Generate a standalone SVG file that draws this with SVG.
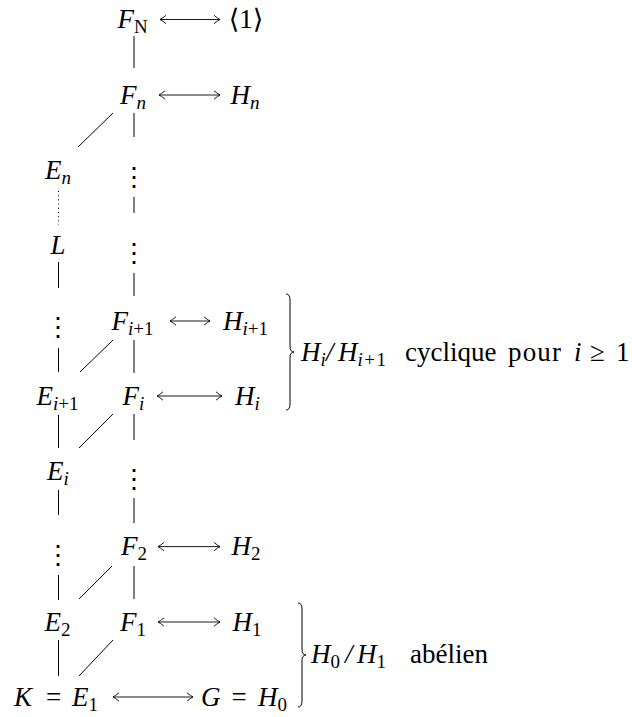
<svg xmlns="http://www.w3.org/2000/svg" width="632" height="717" viewBox="0 0 632 717">
<style>
.m{font-size:27px;font-style:italic;fill:#000}
.up{font-style:normal}
.it{font-style:italic}
.s{font-size:19px}
.vd{font-size:26px;font-style:normal;fill:#000}
.e{stroke:#000;stroke-width:1;fill:none}
.g{stroke:#000;stroke-width:1;fill:none}
.dot{stroke:#000;stroke-width:1;fill:none;stroke-dasharray:1 3.2}
.ar{stroke:#000;stroke-width:0.9;fill:none;marker-start:url(#ah);marker-end:url(#ah)}
.br{stroke:#000;stroke-width:1;fill:none}
</style>
<defs>
<marker id="ah" viewBox="-8 -5 10 10" refX="0" refY="0" markerWidth="10" markerHeight="10" markerUnits="userSpaceOnUse" orient="auto-start-reverse">
<path d="M-6,-4.2 Q-2.2,-1 0,0 Q-2.2,1 -6,4.2" fill="none" stroke="#000" stroke-width="0.9"/>
</marker>
</defs>

<g id="connectors">
<line class="g" x1="134" y1="36" x2="134" y2="68"/>
<line class="g" x1="134" y1="113" x2="134" y2="137"/>
<line class="g" x1="134" y1="197" x2="134" y2="213"/>
<line class="g" x1="134" y1="273" x2="134" y2="296"/>
<line class="g" x1="134" y1="340" x2="134" y2="373"/>
<line class="g" x1="134" y1="414" x2="134" y2="440"/>
<line class="g" x1="134" y1="498" x2="134" y2="523"/>
<line class="g" x1="134" y1="566" x2="134" y2="599"/>
<line class="dot" x1="58.5" y1="191" x2="58.5" y2="225"/>
<line class="e" x1="58.5" y1="262" x2="58.5" y2="288"/>
<line class="e" x1="58.5" y1="348" x2="58.5" y2="372"/>
<line class="e" x1="58.5" y1="415" x2="58.5" y2="448"/>
<line class="e" x1="58.5" y1="490" x2="58.5" y2="515"/>
<line class="e" x1="58.5" y1="575" x2="58.5" y2="600"/>
<line class="e" x1="58.5" y1="640" x2="58.5" y2="676"/>
<line class="e" x1="78" y1="147" x2="113" y2="113"/>
<line class="e" x1="80" y1="372" x2="113" y2="340"/>
<line class="e" x1="79" y1="448" x2="113" y2="414"/>
<line class="e" x1="79" y1="599" x2="112" y2="566"/>
<line class="e" x1="79" y1="676" x2="113" y2="640"/>
<line class="ar" x1="160" y1="19.5" x2="220" y2="19.5"/>
<line class="ar" x1="159" y1="95" x2="220" y2="95"/>
<line class="ar" x1="170" y1="321" x2="210" y2="321"/>
<line class="ar" x1="157" y1="396" x2="222" y2="396"/>
<line class="ar" x1="158" y1="546.6" x2="220" y2="546.6"/>
<line class="ar" x1="158" y1="622" x2="220" y2="622"/>
<line class="ar" x1="113" y1="697" x2="193" y2="697"/>
</g>

<g font-family="Liberation Serif, DejaVu Serif, serif">
<g id="n-FN"><text class="m" x="132.5" y="28" text-anchor="middle">F<tspan class="up s" dy="5">N</tspan></text></g>
<g id="n-1"><text class="m up" x="246" y="28" text-anchor="middle">⟨1⟩</text></g>
<g id="n-Fn"><text class="m" x="133" y="103.5" text-anchor="middle">F<tspan class="s" dy="5">n</tspan></text></g>
<g id="n-Hn"><text class="m" x="245" y="103.5" text-anchor="middle">H<tspan class="s" dy="5">n</tspan></text></g>
<g id="n-En"><text class="m" x="58" y="178.5" text-anchor="middle">E<tspan class="s" dy="5">n</tspan></text></g>
<g id="n-vd1"><text class="vd" x="134" y="186" text-anchor="middle">⋮</text></g>
<g id="n-L"><text class="m" x="58" y="254" text-anchor="middle">L</text></g>
<g id="n-vd2"><text class="vd" x="134" y="262" text-anchor="middle">⋮</text></g>
<g id="n-vd3"><text class="vd" x="58" y="336" text-anchor="middle">⋮</text></g>
<g id="n-Fi1"><text class="m" x="132.5" y="329.5" text-anchor="middle">F<tspan class="s" dy="5">i</tspan><tspan class="up s">+1</tspan></text></g>
<g id="n-Hi1"><text class="m" x="245.5" y="329.5" text-anchor="middle">H<tspan class="s" dy="5">i</tspan><tspan class="up s">+1</tspan></text></g>
<g id="n-Ei1"><text class="m" x="57.5" y="404.5" text-anchor="middle">E<tspan class="s" dy="5">i</tspan><tspan class="up s">+1</tspan></text></g>
<g id="n-Fi"><text class="m" x="133.5" y="404.5" text-anchor="middle">F<tspan class="s" dy="5">i</tspan></text></g>
<g id="n-Hi"><text class="m" x="247.5" y="404.5" text-anchor="middle">H<tspan class="s" dy="5">i</tspan></text></g>
<g id="n-Ei"><text class="m" x="58" y="480" text-anchor="middle">E<tspan class="s" dy="5">i</tspan></text></g>
<g id="n-vd4"><text class="vd" x="134" y="488" text-anchor="middle">⋮</text></g>
<g id="n-vd5"><text class="vd" x="58" y="564" text-anchor="middle">⋮</text></g>
<g id="n-F2"><text class="m" x="134" y="555" text-anchor="middle">F<tspan class="up s" dy="5">2</tspan></text></g>
<g id="n-H2"><text class="m" x="246" y="555" text-anchor="middle">H<tspan class="up s" dy="5">2</tspan></text></g>
<g id="n-E2"><text class="m" x="57.5" y="630.5" text-anchor="middle">E<tspan class="up s" dy="5">2</tspan></text></g>
<g id="n-F1"><text class="m" x="133" y="630.5" text-anchor="middle">F<tspan class="up s" dy="5">1</tspan></text></g>
<g id="n-H1"><text class="m" x="247" y="630.5" text-anchor="middle">H<tspan class="up s" dy="5">1</tspan></text></g>
<g id="n-KE1"><text class="m" y="705.5"><tspan x="14">K</tspan><tspan class="up" x="46">=</tspan><tspan x="72">E</tspan><tspan class="up s" dy="5">1</tspan></text></g>
<g id="n-GH0"><text class="m" y="705.5"><tspan x="201">G</tspan><tspan class="up" x="231.5">=</tspan><tspan x="258">H</tspan><tspan class="up s" dy="5">0</tspan></text></g>

<g id="brace-cyclic">
<path class="br" d="M286,294 Q290,294 290,300 L290,346 Q290,352 294,352 Q290,352 290,358 L290,404 Q290,410 286,410"/>
<text class="m" y="360.5"><tspan x="301">H</tspan><tspan class="s" dy="5">i</tspan><tspan x="326" dy="-5">/</tspan><tspan x="338">H</tspan><tspan class="s" dy="5" letter-spacing="1.5">i</tspan><tspan class="up s" letter-spacing="1.5">+1</tspan><tspan class="up" x="405" dy="-5">cyclique</tspan><tspan class="up" x="508" textLength="53">pour</tspan><tspan x="574">i</tspan><tspan class="up" x="590">≥</tspan><tspan class="up" x="616">1</tspan></text>
</g>
<g id="brace-abelian">
<path class="br" d="M298,603 Q302,603 302,609 L302,649 Q302,655 306,655 Q302,655 302,661 L302,701 Q302,707 298,707"/>
<text class="m" y="663"><tspan x="311">H</tspan><tspan class="up s" dy="5">0</tspan><tspan x="345" dy="-5">/</tspan><tspan x="357">H</tspan><tspan class="up s" dy="5">1</tspan><tspan class="up" x="410" dy="-5">abélien</tspan></text>
</g>
</g>
</svg>
